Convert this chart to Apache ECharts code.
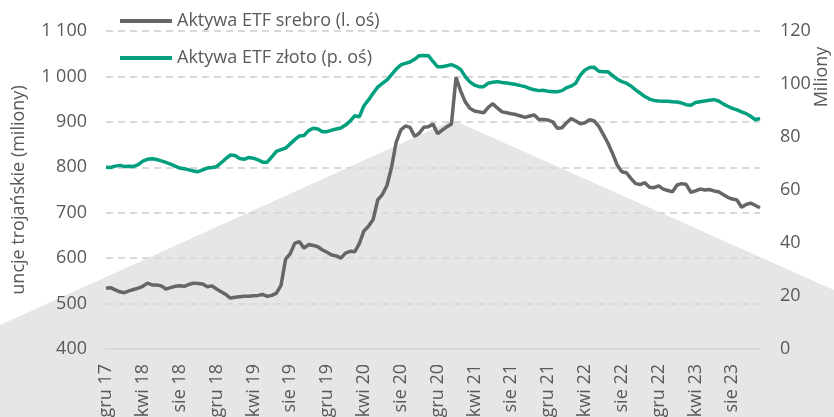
<!DOCTYPE html>
<html>
<head>
<meta charset="utf-8">
<script src="https://cdn.jsdelivr.net/npm/echarts@6/dist/echarts.min.js"></script>
<style>
  body { margin: 0; background: #fff; }
  #chart { width: 834px; height: 417px; }
</style>
</head>
<body>
<div id="chart"></div>
<script>
// etykiety osi X co 4 miesiące (dane co pół miesiąca, od gru 17 do lis 23)
const tickLabels = ['gru 17', 'kwi 18', 'sie 18', 'gru 18', 'kwi 19', 'sie 19', 'gru 19', 'kwi 20', 'sie 20',
  'gru 20', 'kwi 21', 'sie 21', 'gru 21', 'kwi 22', 'sie 22', 'gru 22', 'kwi 23', 'sie 23']

const monthNames = ['sty', 'lut', 'mar', 'kwi', 'maj', 'cze', 'lip', 'sie', 'wrz', 'paź', 'lis', 'gru']
const categories = []
for (let m = 0; m < 72; m++) {
  const mi = (11 + m) % 12
  const yy = 17 + Math.floor((11 + m) / 12)
  categories.push('1 ' + monthNames[mi] + ' ' + yy)
  if (m < 71) categories.push('15 ' + monthNames[mi] + ' ' + yy)
}

// Aktywa ETF srebro, mln uncji (lewa oś)
const silver = [
  534, 535, 530, 526, 524, 528, 531, 534, 538, 545,
  541, 541, 539, 532, 535, 538, 539, 538, 542, 545,
  544, 543, 537, 539, 532, 526, 520, 512, 514, 515,
  516, 516, 517, 518, 520, 516, 518, 523, 540, 598,
  610, 633, 636, 622, 630, 628, 625, 618, 613, 607,
  605, 600, 611, 615, 614, 632, 660, 670, 685, 728,
  740, 760, 800, 855, 882, 891, 888, 868, 875, 888,
  889, 895, 874, 882, 889, 895, 998, 968, 944, 930,
  924, 922, 920, 932, 940, 930, 922, 920, 918, 916,
  913, 910, 913, 915, 905, 905, 904, 900, 886, 887,
  898, 907, 902, 896, 898, 905, 902, 890, 872, 853,
  830, 805, 790, 788, 775, 764, 762, 766, 756, 755,
  759, 752, 749, 746, 761, 764, 762, 745, 748, 752,
  750, 751, 748, 746, 740, 734, 730, 728, 712, 718,
  721, 716, 711
]

// Aktywa ETF złoto, mln uncji (prawa oś)
const gold = [
  68.6, 68.5, 69.0, 69.3, 68.9, 69.0, 68.9, 69.6, 70.9, 71.6,
  71.8, 71.5, 71.0, 70.4, 69.8, 69.0, 68.3, 68.0, 67.6, 67.2,
  66.9, 67.6, 68.3, 68.5, 68.8, 70.3, 71.8, 73.2, 73.0, 71.9,
  71.6, 72.3, 72.0, 71.4, 70.5, 70.5, 72.5, 74.6, 75.2, 75.8,
  77.4, 79.0, 80.4, 80.6, 82.4, 83.3, 83.0, 82.0, 82.0, 82.6,
  83.0, 83.4, 84.5, 86.0, 88.0, 87.6, 91.8, 94.0, 96.5, 98.8,
  100.2, 101.5, 103.5, 105.6, 107.2, 107.8, 108.3, 109.3, 110.7, 110.8,
  110.7, 108.5, 106.5, 106.5, 106.9, 107.3, 106.6, 105.5, 102.8, 100.8,
  99.6, 99.0, 99.0, 100.3, 100.7, 100.9, 100.6, 100.4, 100.1, 99.8,
  99.4, 99.0, 98.3, 97.8, 97.5, 97.6, 97.3, 97.1, 97.1, 97.5,
  98.6, 99.2, 100.3, 103.4, 105.3, 106.2, 106.3, 104.8, 104.6, 104.6,
  103.2, 101.8, 100.9, 100.3, 99.2, 97.8, 96.5, 95.3, 94.3, 93.8,
  93.6, 93.5, 93.5, 93.3, 93.2, 92.8, 92.2, 92.0, 93.0, 93.3,
  93.6, 93.9, 94.1, 93.6, 92.5, 91.6, 90.8, 90.2, 89.5, 88.8,
  87.8, 86.5, 87.0
]

const textColor = '#595959'
const fontFamily = '"Open Sans", sans-serif'

const chart = echarts.init(document.getElementById('chart'))
chart.setOption({
  animation: false,
  textStyle: { fontFamily: fontFamily },
  color: ['#666666', '#00a07f'],
  // szare tło w kształcie trójkąta
  graphic: [
    {
      type: 'polygon',
      z: -10,
      silent: true,
      shape: { points: [[0, 325], [453, 120], [834, 290], [834, 417], [0, 417]] },
      style: { fill: '#e6e6e6' }
    },
    {
      type: 'text',
      x: 822,
      y: 77,
      rotation: Math.PI / 2,
      style: {
        text: 'Miliony',
        fill: textColor,
        font: '18px "Open Sans", sans-serif',
        align: 'center',
        verticalAlign: 'middle'
      }
    }
  ],
  legend: {
    orient: 'vertical',
    left: 115,
    top: 7,
    icon: 'rect',
    itemWidth: 52,
    itemHeight: 4,
    itemGap: 19,
    textStyle: { color: textColor, fontSize: 18, fontFamily: fontFamily },
    data: ['Aktywa ETF srebro (l. oś)', 'Aktywa ETF złoto (p. oś)']
  },
  grid: {
    left: 106,
    right: 74,
    top: 31,
    bottom: 68,
    outerBoundsMode: 'none'
  },
  xAxis: {
    type: 'category',
    data: categories,
    boundaryGap: false,
    axisLine: { lineStyle: { color: '#d9d9d9', width: 2 } },
    axisTick: { show: false },
    axisLabel: {
      interval: 7,
      rotate: 90,
      margin: 15,
      color: textColor,
      fontSize: 18,
      formatter: (val, idx) => tickLabels[idx / 8] || ''
    }
  },
  yAxis: [
    {
      type: 'value',
      min: 400,
      max: 1100,
      interval: 100,
      name: 'uncje trojańskie (miliony)',
      nameLocation: 'middle',
      nameGap: 78,
      nameTextStyle: { color: textColor, fontSize: 18 },
      axisLine: { show: false },
      axisTick: { show: false },
      axisLabel: {
        color: textColor,
        fontSize: 18,
        margin: 19,
        formatter: v => String(v).replace(/\B(?=(\d{3})+(?!\d))/g, ' ')
      },
      splitLine: { lineStyle: { color: '#d9d9d9', width: 2, type: [7, 5] } }
    },
    {
      type: 'value',
      min: 0,
      max: 120,
      interval: 20,
      axisLine: { show: false },
      axisTick: { show: false },
      axisLabel: { color: textColor, fontSize: 18, margin: 20 },
      splitLine: { show: false }
    }
  ],
  series: [
    {
      name: 'Aktywa ETF srebro (l. oś)',
      type: 'line',
      yAxisIndex: 0,
      data: silver,
      symbol: 'none',
      lineStyle: { width: 3.5, color: '#666666' }
    },
    {
      name: 'Aktywa ETF złoto (p. oś)',
      type: 'line',
      yAxisIndex: 1,
      data: gold,
      symbol: 'none',
      lineStyle: { width: 3.5, color: '#00a07f' }
    }
  ]
})
</script>
</body>
</html>
